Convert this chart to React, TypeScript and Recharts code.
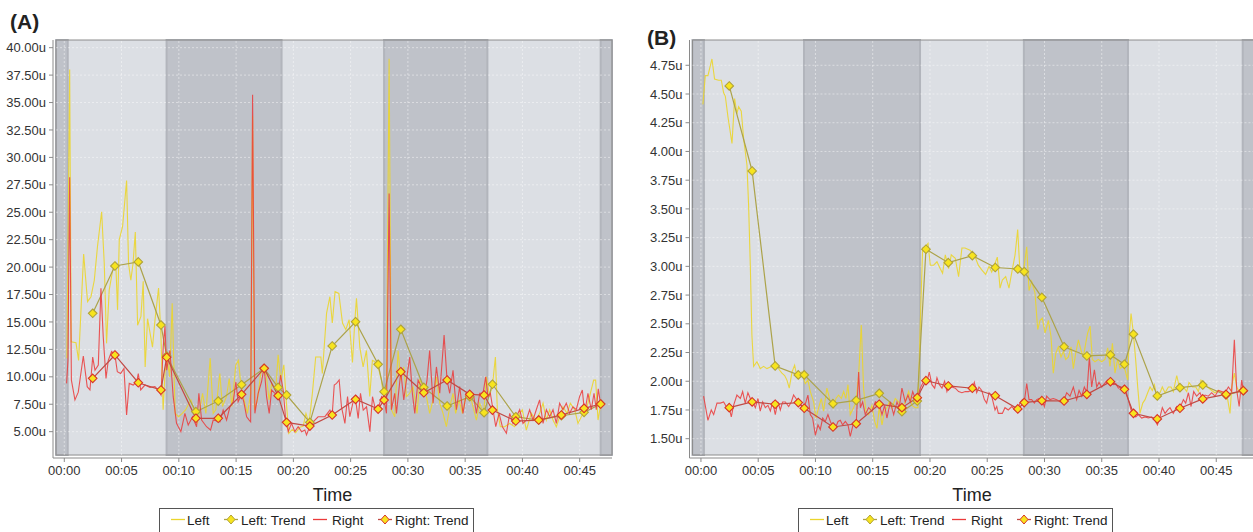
import React from 'react';
import { LineChart, Line, XAxis, YAxis, ReferenceArea, ReferenceLine } from 'recharts';

type Pt = [number, number];

// time ticks (minutes) shared by both panels
const timeTicks = [0, 5, 10, 15, 20, 25, 30, 35, 40, 45];
const yTicksA = [5, 7.5, 10, 12.5, 15, 17.5, 20, 22.5, 25, 27.5, 30, 32.5, 35, 37.5, 40];
const yTicksB = [1.5, 1.75, 2, 2.25, 2.5, 2.75, 3, 3.25, 3.5, 3.75, 4, 4.25, 4.5, 4.75];

// shaded phases (minutes): [start, end]
const darkBandsA: Pt[] = [[-0.72, 0.3], [8.93, 18.97], [27.92, 36.94], [46.83, 47.82]];
const darkBandsB: Pt[] = [[-0.74, 0.26], [9.0, 19.13], [28.2, 37.29], [47.31, 48.34]];

// ---- panel A raw series [minute, value]
const leftA: Pt[] = [
  [0.23, 11.7], [0.47, 38.0], [0.6, 13.2], [1.02, 13.1], [1.25, 11.5], [1.69, 21.2], [2.03, 16.85], [2.33, 17.3],
  [2.62, 18.8], [2.9, 21.9], [3.26, 25.05], [3.49, 20.3], [3.69, 13.05], [3.92, 17.9], [4.22, 19.7], [4.5, 20.2],
  [4.65, 16.1], [4.8, 22.5], [5.09, 23.7], [5.44, 27.9], [5.61, 20.3], [5.81, 18.8], [6.0, 20.3], [6.2, 23.2],
  [6.4, 14.7], [6.69, 15.5], [6.89, 18.7], [7.06, 10.9], [7.27, 15.3], [7.47, 14.1], [7.7, 12.7], [7.93, 15.3],
  [8.23, 18.1], [8.43, 14.0], [8.63, 7.0], [8.8, 10.5], [9.0, 11.5], [9.2, 10.0], [9.42, 16.7], [9.68, 6.67],
  [9.97, 6.37], [10.3, 6.67], [10.6, 7.0], [11.05, 7.9], [11.34, 7.0], [11.63, 5.75], [12.07, 8.5], [12.36, 6.67],
  [12.74, 11.7], [13.0, 6.67], [13.23, 7.0], [13.58, 10.3], [13.81, 7.3], [14.16, 8.2], [14.4, 9.85], [14.63, 7.3],
  [14.97, 11.07], [15.2, 11.5], [15.44, 9.1], [15.7, 7.9], [15.99, 6.67], [16.28, 8.5], [16.44, 33.8], [16.6, 7.0],
  [16.86, 7.9], [17.15, 10.3], [17.44, 10.77], [17.65, 10.0], [17.88, 7.9], [18.11, 9.4], [18.46, 8.8], [18.67, 12.0],
  [18.9, 9.7], [19.17, 11.1], [19.4, 7.5], [19.6, 4.85], [19.9, 5.2], [20.2, 4.9], [20.57, 5.4], [20.86, 5.5],
  [21.1, 6.67], [21.37, 5.75], [21.66, 8.5], [21.95, 11.8], [22.4, 11.8], [22.53, 10.3], [22.9, 15.8], [23.19, 17.3],
  [23.4, 14.9], [23.64, 17.76], [23.97, 17.6], [24.29, 14.9], [24.58, 14.3], [24.87, 15.2], [25.16, 11.3], [25.36, 15.0],
  [25.51, 17.15], [25.8, 12.7], [26.09, 10.9], [26.38, 12.4], [26.67, 8.2], [26.9, 11.5], [27.1, 11.4], [27.4, 10.9],
  [27.69, 9.7], [27.83, 8.5], [28.12, 7.9], [28.36, 39.0], [28.56, 7.0], [28.85, 6.36], [29.14, 12.4], [29.38, 9.7],
  [29.64, 10.9], [29.87, 8.2], [30.16, 8.5], [30.45, 9.1], [30.8, 6.67], [31.03, 9.7], [31.38, 9.1], [31.62, 8.2],
  [31.9, 6.67], [32.2, 7.9], [32.49, 10.0], [32.78, 7.6], [33.07, 6.67], [33.36, 5.45], [33.65, 7.27], [33.94, 8.5],
  [34.17, 6.67], [34.47, 7.9], [34.76, 6.67], [35.05, 8.2], [35.4, 8.5], [35.69, 7.27], [35.98, 6.06], [36.27, 7.6],
  [36.62, 6.67], [36.85, 10.0], [37.14, 8.2], [37.43, 9.7], [37.64, 11.8], [37.81, 7.0], [38.07, 5.45], [38.45, 5.45],
  [38.89, 5.75], [39.32, 5.45], [39.76, 6.67], [39.99, 7.0], [40.34, 5.15], [40.78, 6.67], [41.16, 6.06], [41.5, 6.67],
  [41.8, 7.6], [42.09, 6.06], [42.38, 7.0], [42.67, 6.06], [42.96, 5.45], [43.25, 6.36], [43.54, 7.27], [43.89, 6.67],
  [44.18, 7.6], [44.56, 7.0], [44.85, 5.75], [45.29, 6.67], [45.58, 7.0], [45.93, 8.5], [46.22, 9.7], [46.39, 9.7],
  [46.6, 6.06], [46.8, 7.27], [46.89, 7.7],
];

const rightA: Pt[] = [
  [0.2, 9.4], [0.32, 11.5], [0.47, 28.2], [0.62, 9.7], [0.93, 7.9], [1.22, 8.6], [1.66, 11.9], [2.0, 9.1],
  [2.24, 8.8], [2.48, 11.8], [2.68, 10.6], [2.97, 11.07], [3.2, 18.07], [3.4, 13.65], [3.64, 9.86], [3.84, 11.5],
  [4.13, 12.3], [4.42, 12.0], [4.63, 10.46], [4.92, 10.3], [5.21, 10.77], [5.44, 6.52], [5.67, 9.4], [6.02, 9.25],
  [6.32, 9.55], [6.46, 10.3], [6.67, 8.8], [7.04, 9.25], [7.48, 9.04], [7.91, 9.1], [8.2, 8.8], [8.44, 8.34],
  [8.64, 12.74], [8.79, 14.63], [8.94, 10.6], [9.22, 12.4], [9.51, 8.19], [9.8, 5.76], [10.18, 5.0], [10.53, 6.67],
  [10.82, 5.6], [11.2, 6.36], [11.55, 5.45], [11.75, 8.5], [11.99, 6.06], [12.42, 5.45], [12.77, 5.15], [13.0, 6.06],
  [13.59, 5.9], [13.87, 6.97], [14.17, 6.06], [14.46, 7.27], [14.75, 7.73], [14.98, 9.55], [15.18, 7.73], [15.48, 8.4],
  [15.68, 7.7], [15.92, 6.36], [16.14, 6.06], [16.27, 5.9], [16.44, 35.7], [16.64, 6.67], [16.93, 8.5], [17.22, 9.55],
  [17.45, 10.9], [17.66, 8.2], [17.89, 6.67], [18.1, 8.8], [18.39, 8.5], [18.67, 8.28], [18.88, 10.16], [19.11, 8.8],
  [19.32, 6.22], [19.55, 5.0], [19.84, 5.76], [20.13, 5.0], [20.42, 5.45], [20.72, 5.0], [21.0, 5.15], [21.15, 4.7],
  [21.44, 5.5], [21.73, 5.9], [22.16, 6.36], [22.75, 6.37], [23.19, 6.97], [23.39, 6.52], [23.57, 9.25], [23.77, 9.4],
  [24.0, 9.71], [24.2, 7.27], [24.5, 5.76], [24.73, 8.19], [24.93, 6.37], [25.22, 7.73], [25.43, 7.95], [25.66, 6.2],
  [25.86, 8.5], [26.1, 6.97], [26.39, 7.27], [26.68, 5.0], [26.91, 8.19], [27.11, 7.27], [27.4, 7.06], [27.7, 8.19],
  [27.93, 7.88], [28.13, 6.67], [28.36, 26.7], [28.56, 7.0], [28.85, 8.5], [29.0, 6.67], [29.38, 10.46], [29.64, 7.9],
  [29.87, 9.7], [30.16, 11.8], [30.39, 8.5], [30.6, 6.67], [30.89, 9.7], [31.18, 9.1], [31.47, 8.5], [31.67, 9.7],
  [31.9, 12.4], [32.2, 7.6], [32.49, 10.9], [32.78, 8.5], [33.16, 13.8], [33.42, 9.7], [33.65, 8.5], [33.94, 10.6],
  [34.23, 7.0], [34.52, 9.1], [34.81, 6.67], [35.1, 8.5], [35.4, 8.5], [35.75, 8.2], [35.98, 6.67], [36.27, 8.5],
  [36.56, 8.5], [36.79, 10.0], [36.99, 8.2], [37.2, 8.5], [37.43, 7.0], [37.67, 5.45], [37.96, 6.67], [38.25, 5.45],
  [38.6, 4.85], [38.89, 6.67], [39.18, 5.75], [39.47, 6.36], [39.76, 7.0], [40.05, 5.75], [40.34, 6.06], [40.63, 7.0],
  [40.92, 6.06], [41.21, 7.0], [41.5, 7.9], [41.8, 5.75], [42.09, 7.0], [42.38, 6.36], [42.67, 7.0], [42.96, 5.75],
  [43.25, 7.6], [43.54, 7.0], [43.83, 7.6], [44.12, 6.67], [44.41, 7.27], [44.7, 7.0], [44.99, 8.2], [45.23, 8.8],
  [45.43, 6.67], [45.72, 8.5], [46.01, 7.0], [46.25, 8.5], [46.45, 7.0], [46.62, 8.9], [46.8, 7.7],
];

// ---- panel A trends
const trendTimesA = [2.48, 4.42, 6.46, 8.44, 8.94, 11.49, 13.44, 15.48, 17.45, 18.67, 19.41, 21.44, 23.39, 25.43,
  27.4, 27.92, 29.38, 31.39, 33.42, 35.4, 36.65, 37.38, 39.42, 41.42, 43.4, 45.38, 46.83];
const leftTrendA = [15.79, 20.1, 20.47, 14.72, 11.9, 6.82, 7.79, 9.28, 10.77, 9.04, 8.34, 5.85, 12.81, 15.02,
  11.14, 8.64, 14.33, 9.04, 7.34, 8.19, 6.73, 9.32, 6.36, 6.06, 6.45, 6.76, 7.52];
const rightTrendA = [9.86, 11.99, 9.46, 8.8, 11.78, 6.22, 6.22, 8.4, 10.77, 8.28, 5.85, 5.51, 6.52, 7.95,
  7.06, 7.88, 10.46, 8.55, 9.71, 8.4, 8.34, 6.97, 5.97, 6.06, 6.52, 7.13, 7.52];

// ---- panel B raw series
const leftB: Pt[] = [
  [0.17, 4.41], [0.38, 4.66], [0.61, 4.66], [0.96, 4.805], [1.19, 4.63], [1.54, 4.62], [1.78, 4.62], [1.98, 4.51],
  [2.13, 4.48], [2.36, 4.3], [2.71, 4.07], [2.94, 4.46], [3.14, 4.33], [3.29, 4.39], [3.52, 4.35], [3.73, 4.11],
  [4.02, 3.88], [4.16, 3.535], [4.31, 3.01], [4.45, 2.4], [4.6, 2.13], [4.89, 2.17], [5.18, 2.11], [5.47, 2.13],
  [5.76, 2.11], [6.2, 2.13], [6.64, 2.14], [6.84, 2.1], [7.07, 2.07], [7.31, 2.05], [7.51, 2.01], [7.71, 1.94],
  [7.95, 2.08], [8.18, 2.14], [8.38, 2.04], [8.59, 2.05], [8.82, 2.08], [9.11, 1.98], [9.34, 2.01], [9.55, 1.91],
  [9.84, 1.82], [10.04, 1.68], [10.28, 1.77], [10.51, 1.85], [10.71, 1.74], [11.0, 1.94], [11.3, 1.82], [11.59, 1.77],
  [11.79, 1.85], [12.02, 1.88], [12.26, 1.85], [12.46, 1.91], [12.66, 1.85], [12.84, 1.97], [13.04, 1.71], [13.33, 1.77],
  [13.54, 1.82], [13.77, 2.05], [14.0, 2.49], [14.2, 1.94], [14.4, 1.74], [14.64, 1.71], [14.93, 1.79], [15.17, 1.65],
  [15.37, 1.59], [15.57, 1.77], [15.81, 1.62], [16.04, 1.74], [16.24, 1.77], [16.45, 1.82], [16.68, 1.77], [16.97, 1.85],
  [17.26, 1.82], [17.55, 1.77], [17.84, 1.82], [18.14, 1.91], [18.43, 1.79], [18.72, 1.77], [18.95, 1.77], [19.16, 2.52],
  [19.36, 3.16], [19.59, 3.17], [19.83, 3.2], [20.03, 3.01], [20.32, 3.01], [20.61, 3.04], [20.9, 2.98], [21.1, 2.94],
  [21.34, 3.1], [21.63, 2.98], [21.86, 3.1], [22.21, 3.07], [22.5, 2.91], [22.79, 3.16], [23.06, 3.16], [23.5, 3.14],
  [23.87, 3.1], [24.22, 3.01], [24.52, 2.97], [24.86, 2.93], [25.16, 3.0], [25.39, 2.95], [25.62, 3.01], [25.88, 3.08],
  [26.12, 2.81], [26.32, 2.88], [26.61, 2.91], [26.9, 2.81], [27.13, 2.94], [27.43, 3.1], [27.66, 3.32], [27.86, 2.95],
  [28.15, 2.95], [28.45, 3.17], [28.65, 2.79], [28.88, 2.87], [29.17, 2.77], [29.41, 2.45], [29.61, 2.53], [29.81, 2.55],
  [30.05, 2.42], [30.34, 2.53], [30.57, 2.39], [30.77, 2.07], [30.98, 2.24], [31.21, 2.3], [31.44, 2.21], [31.65, 2.26],
  [31.85, 2.19], [32.08, 2.21], [32.32, 2.3], [32.52, 2.11], [32.72, 2.24], [32.96, 2.36], [33.19, 2.27], [33.39, 2.21],
  [33.6, 2.33], [33.77, 2.42], [33.98, 2.48], [34.18, 2.19], [34.41, 2.17], [34.7, 2.19], [34.99, 2.17], [35.28, 2.19],
  [35.52, 2.29], [35.72, 2.13], [35.93, 2.33], [36.16, 2.07], [36.39, 2.19], [36.6, 2.11], [36.8, 2.13], [37.03, 2.1],
  [37.27, 2.01], [37.41, 2.42], [37.56, 2.59], [37.76, 2.42], [37.96, 2.19], [38.14, 1.95], [38.34, 1.72], [38.58, 1.81],
  [38.78, 1.84], [39.01, 1.9], [39.22, 1.95], [39.42, 1.92], [39.6, 1.97], [39.8, 1.87], [40.09, 1.9], [40.29, 1.95],
  [40.53, 1.9], [40.82, 1.95], [41.05, 1.95], [41.25, 1.91], [41.55, 2.05], [41.84, 1.92], [42.13, 1.95], [42.42, 1.91],
  [42.62, 1.99], [42.92, 1.95], [43.21, 1.95], [43.44, 1.91], [43.67, 2.01], [43.96, 1.98], [44.25, 1.95], [44.6, 1.92],
  [44.89, 1.9], [45.18, 1.92], [45.48, 1.9], [45.77, 1.91], [46.0, 1.84], [46.2, 1.72], [46.35, 1.95], [46.58, 2.07],
  [46.79, 1.95], [47.0, 1.91], [47.22, 1.94], [47.46, 1.92],
];

const rightB: Pt[] = [
  [0.23, 1.87], [0.61, 1.66], [0.9, 1.75], [1.11, 1.71], [1.4, 1.81], [1.69, 1.81], [1.98, 1.82], [2.27, 1.77],
  [2.47, 1.77], [2.65, 1.69], [2.85, 1.79], [3.14, 1.88], [3.44, 1.85], [3.64, 1.91], [3.87, 1.81], [4.1, 1.9],
  [4.31, 1.85], [4.51, 1.82], [4.75, 1.77], [4.98, 1.85], [5.18, 1.74], [5.39, 1.82], [5.62, 1.77], [5.85, 1.79],
  [6.06, 1.74], [6.26, 1.82], [6.49, 1.71], [6.72, 1.82], [6.93, 1.75], [7.13, 1.82], [7.37, 1.82], [7.66, 1.78],
  [7.89, 1.82], [8.09, 1.88], [8.3, 1.85], [8.53, 1.81], [8.76, 1.79], [8.97, 1.76], [9.17, 1.82], [9.34, 1.88],
  [9.55, 1.71], [9.75, 1.68], [9.99, 1.53], [10.22, 1.62], [10.42, 1.58], [10.63, 1.68], [10.86, 1.65], [11.09, 1.71],
  [11.3, 1.65], [11.53, 1.6], [11.73, 1.59], [11.97, 1.65], [12.17, 1.66], [12.37, 1.62], [12.61, 1.65], [12.84, 1.62],
  [13.04, 1.52], [13.28, 1.62], [13.56, 1.63], [13.77, 2.08], [13.92, 1.77], [14.12, 1.82], [14.35, 1.71], [14.64, 1.77],
  [14.93, 1.74], [15.23, 1.82], [15.57, 1.8], [15.81, 1.71], [16.04, 1.79], [16.24, 1.68], [16.54, 1.82], [16.83, 1.71],
  [17.12, 1.82], [17.32, 1.77], [17.55, 1.94], [17.84, 1.82], [18.08, 1.88], [18.28, 1.82], [18.49, 1.91], [18.72, 1.85],
  [18.95, 1.87], [19.16, 1.94], [19.3, 1.97], [19.53, 2.01], [19.74, 2.0], [19.94, 2.08], [20.17, 1.97], [20.41, 1.94],
  [20.61, 2.03], [20.82, 1.97], [21.05, 1.94], [21.28, 2.0], [21.48, 1.91], [21.69, 1.97], [21.92, 1.95], [22.21, 1.94],
  [22.5, 1.91], [22.79, 1.9], [23.09, 1.91], [23.35, 1.91], [23.64, 1.92], [23.87, 1.99], [24.08, 1.9], [24.28, 1.95],
  [24.52, 1.92], [24.75, 1.84], [24.95, 1.81], [25.16, 1.9], [25.39, 1.87], [25.68, 1.75], [25.83, 1.78], [25.97, 1.72],
  [26.32, 1.72], [26.55, 1.77], [26.84, 1.75], [27.14, 1.78], [27.43, 1.75], [27.66, 1.76], [27.86, 1.81], [28.07, 1.84],
  [28.24, 1.82], [28.45, 1.98], [28.65, 1.84], [28.88, 1.84], [29.12, 1.81], [29.32, 1.84], [29.52, 1.85], [29.76, 1.84],
  [29.99, 1.78], [30.19, 1.87], [30.48, 1.84], [30.77, 1.85], [31.07, 1.84], [31.36, 1.82], [31.71, 1.84], [31.94, 1.9],
  [32.23, 1.87], [32.52, 1.95], [32.81, 1.84], [33.02, 1.92], [33.25, 1.87], [33.48, 1.95], [33.71, 1.9], [33.92, 2.21],
  [34.12, 1.95], [34.36, 2.1], [34.56, 1.95], [34.76, 1.99], [35.0, 1.95], [35.23, 1.98], [35.52, 2.01], [35.75, 1.99],
  [36.01, 1.97], [36.22, 1.98], [36.45, 1.94], [36.68, 1.95], [36.89, 1.91], [37.09, 1.92], [37.32, 1.84], [37.56, 1.75],
  [37.76, 1.72], [37.97, 1.69], [38.2, 1.71], [38.49, 1.68], [38.78, 1.69], [39.07, 1.68], [39.36, 1.69], [39.65, 1.66],
  [39.86, 1.62], [40.09, 1.69], [40.29, 1.77], [40.53, 1.72], [40.76, 1.75], [40.96, 1.77], [41.25, 1.72], [41.55, 1.78],
  [41.84, 1.77], [42.13, 1.84], [42.33, 1.81], [42.57, 1.9], [42.8, 1.78], [43.03, 1.91], [43.29, 1.87], [43.58, 1.9],
  [43.79, 1.85], [44.02, 1.88], [44.31, 1.87], [44.6, 1.9], [44.89, 1.87], [45.18, 1.92], [45.48, 1.91], [45.77, 1.9],
  [46.06, 1.95], [46.35, 1.91], [46.58, 2.36], [46.79, 1.92], [47.0, 1.78], [47.22, 2.01], [47.37, 1.91],
];

// ---- panel B trends
const trendTimesB = [2.47, 4.47, 6.48, 8.5, 9.02, 11.53, 13.56, 15.57, 17.55, 18.89, 19.65, 21.6, 23.7, 25.7,
  27.67, 28.23, 29.77, 31.71, 33.7, 35.76, 36.98, 37.77, 39.85, 41.83, 43.82, 45.85, 47.36];
const leftTrendB = [4.57, 3.83, 2.133, 2.055, 2.055, 1.805, 1.834, 1.895, 1.735, 1.828, 3.149, 3.032, 3.093, 2.99,
  2.977, 2.954, 2.73, 2.3, 2.22, 2.229, 2.148, 2.41, 1.872, 1.944, 1.967, 1.88, 1.918];
const rightTrendB = [1.77, 1.82, 1.8, 1.814, 1.765, 1.602, 1.63, 1.8, 1.77, 1.857, 2.005, 1.959, 1.939, 1.874,
  1.759, 1.814, 1.831, 1.828, 1.886, 1.996, 1.93, 1.721, 1.672, 1.765, 1.846, 1.886, 1.918];

const FONT = '"Liberation Sans", Arial, sans-serif';
const LEFT_COLOR = '#ebd52c';
const LEFT_TREND = '#aca34a';
const RIGHT_COLOR = '#eb3a3a';
const RIGHT_TREND = '#c24a45';
const MARK_FILL = '#f7e41e';
const MARK_LEFT = '#b0a237';
const MARK_RIGHT = '#d83329';
const LIGHT_BG = '#dcdfe4';
const DARK_BG = '#bfc2c9';

const rows = (pts: Pt[]) => pts.map(([t, v]) => ({ t, v }));
const trendRows = (times: number[], vals: number[]) => times.map((t, i) => ({ t, v: vals[i] }));
const fmtTime = (m: number) => `00:${String(m).padStart(2, '0')}`;

const diamond = (stroke: string) => (props: any) => {
  const { cx, cy, index } = props;
  if (cx == null || cy == null) return <g key={`d-${index}`} />;
  const r = 4.3;
  return (
    <polygon
      key={`d-${index}`}
      points={`${cx},${cy - r} ${cx + r},${cy} ${cx},${cy + r} ${cx - r},${cy}`}
      fill={MARK_FILL}
      stroke={stroke}
      strokeWidth={1.1}
    />
  );
};

interface PanelProps {
  left: number;
  width: number;
  yAxisWidth: number;
  marginRight: number;
  xDomain: [number, number];
  yDomain: [number, number];
  box: { x1: number; x2: number; y1: number; y2: number };
  bands: Pt[];
  yTicks: number[];
  yDigits: number;
  leftRaw: Pt[];
  rightRaw: Pt[];
  trendTimes: number[];
  leftTrend: number[];
  rightTrend: number[];
}

function Panel(p: PanelProps) {
  const tickStyle = { fill: '#333', fontSize: 13, fontFamily: FONT };
  return (
    <div style={{ position: 'absolute', left: p.left, top: 0 }}>
      <LineChart width={p.width} height={532} margin={{ top: 40, right: p.marginRight, bottom: 24, left: 0 }}>
        <XAxis
          dataKey="t"
          type="number"
          domain={p.xDomain}
          allowDataOverflow
          ticks={timeTicks}
          interval={0}
          tickFormatter={fmtTime}
          tick={tickStyle}
          tickSize={4}
          tickMargin={4}
          axisLine={{ stroke: '#8a8a8a' }}
          tickLine={{ stroke: '#8a8a8a' }}
          height={50}
          label={{ value: 'Time', position: 'insideBottom', offset: 7, fill: '#222', fontSize: 18, fontFamily: FONT }}
        />
        <YAxis
          type="number"
          domain={p.yDomain}
          allowDataOverflow
          ticks={p.yTicks}
          interval={0}
          tickFormatter={(v: number) => `${v.toFixed(p.yDigits)}u`}
          tick={tickStyle}
          tickSize={4}
          tickMargin={3}
          axisLine={{ stroke: '#8a8a8a' }}
          tickLine={{ stroke: '#8a8a8a' }}
          width={p.yAxisWidth}
        />
        <ReferenceArea x1={p.box.x1} x2={p.box.x2} y1={p.box.y1} y2={p.box.y2} fill={LIGHT_BG} fillOpacity={1} stroke="none" />
        {p.bands.map(([a, b], i) => (
          <ReferenceArea key={`band-${i}`} x1={a} x2={b} y1={p.box.y1} y2={p.box.y2} fill={DARK_BG} fillOpacity={1}
            stroke="#b2b5bc" strokeWidth={2} />
        ))}
        {p.yTicks.map((v) => (
          <ReferenceLine key={`gy-${v}`} segment={[{ x: p.box.x1, y: v }, { x: p.box.x2, y: v }]}
            stroke="#ffffff" strokeOpacity={0.45} strokeDasharray="2 2" />
        ))}
        {timeTicks.map((t) => (
          <ReferenceLine key={`gx-${t}`} segment={[{ x: t, y: p.box.y1 }, { x: t, y: p.box.y2 }]}
            stroke="#ffffff" strokeOpacity={0.45} strokeDasharray="2 2" />
        ))}
        <ReferenceArea x1={p.box.x1} x2={p.box.x2} y1={p.box.y1} y2={p.box.y2} fill="none" stroke="#8c8c8c" strokeWidth={1} />
        <Line data={rows(p.leftRaw)} dataKey="v" name="Left" type="linear" stroke={LEFT_COLOR} strokeWidth={1.1}
          strokeOpacity={0.9} dot={false} activeDot={false} isAnimationActive={false} />
        <Line data={trendRows(p.trendTimes, p.leftTrend)} dataKey="v" name="Left: Trend" type="linear" stroke={LEFT_TREND}
          strokeWidth={1.2} dot={diamond(MARK_LEFT)} activeDot={false} isAnimationActive={false} />
        <Line data={rows(p.rightRaw)} dataKey="v" name="Right" type="linear" stroke={RIGHT_COLOR} strokeWidth={1.1}
          strokeOpacity={0.85} dot={false} activeDot={false} isAnimationActive={false} />
        <Line data={trendRows(p.trendTimes, p.rightTrend)} dataKey="v" name="Right: Trend" type="linear" stroke={RIGHT_TREND}
          strokeWidth={1.2} dot={diamond(MARK_RIGHT)} activeDot={false} isAnimationActive={false} />
      </LineChart>
    </div>
  );
}

function LegendBox({ left }: { left: number }) {
  const txt: React.CSSProperties = { fontFamily: FONT, fontSize: 13.5, color: '#222', position: 'absolute', top: 4 };
  const dia = (stroke: string) => <polygon points="7,2 11,6.5 7,11 3,6.5" fill={MARK_FILL} stroke={stroke} strokeWidth={1} />;
  return (
    <div style={{ position: 'absolute', left, top: 508, width: 313, height: 24, border: '1px solid #555', background: '#fff' }}>
      <svg style={{ position: 'absolute', left: 11, top: 4 }} width={14} height={13}>
        <line x1={0} y1={6.5} x2={14} y2={6.5} stroke={LEFT_COLOR} strokeWidth={1.3} />
      </svg>
      <span style={{ ...txt, left: 27 }}>Left</span>
      <svg style={{ position: 'absolute', left: 64, top: 4 }} width={14} height={13}>
        <line x1={0} y1={6.5} x2={14} y2={6.5} stroke={LEFT_TREND} strokeWidth={1.3} />
        {dia(MARK_LEFT)}
      </svg>
      <span style={{ ...txt, left: 81 }}>Left: Trend</span>
      <svg style={{ position: 'absolute', left: 153, top: 4 }} width={14} height={13}>
        <line x1={0} y1={6.5} x2={14} y2={6.5} stroke={RIGHT_COLOR} strokeWidth={1.3} />
      </svg>
      <span style={{ ...txt, left: 172 }}>Right</span>
      <svg style={{ position: 'absolute', left: 218, top: 4 }} width={14} height={13}>
        <line x1={0} y1={6.5} x2={14} y2={6.5} stroke={RIGHT_TREND} strokeWidth={1.3} />
        {dia(MARK_RIGHT)}
      </svg>
      <span style={{ ...txt, left: 235 }}>Right: Trend</span>
    </div>
  );
}

export default function App() {
  const title: React.CSSProperties = { position: 'absolute', fontFamily: FONT, fontWeight: 700, fontSize: 21, color: '#222' };
  return (
    <div style={{ position: 'absolute', left: 0, top: 0, width: 1253, height: 532, overflow: 'hidden', background: '#fff' }}>
      <Panel
        left={0}
        width={633}
        yAxisWidth={53}
        marginRight={21}
        xDomain={[-0.986, 47.82]}
        yDomain={[2.6, 40.7]}
        box={{ x1: -0.72, x2: 47.82, y1: 2.87, y2: 40.7 }}
        bands={darkBandsA}
        yTicks={yTicksA}
        yDigits={2}
        leftRaw={leftA}
        rightRaw={rightA}
        trendTimes={trendTimesA}
        leftTrend={leftTrendA}
        rightTrend={rightTrendA}
      />
      <Panel
        left={637}
        width={633}
        yAxisWidth={52.5}
        marginRight={15.5}
        xDomain={[-1.0, 48.34]}
        yDomain={[1.332, 4.97]}
        box={{ x1: -0.74, x2: 48.34, y1: 1.358, y2: 4.97 }}
        bands={darkBandsB}
        yTicks={yTicksB}
        yDigits={2}
        leftRaw={leftB}
        rightRaw={rightB}
        trendTimes={trendTimesB}
        leftTrend={leftTrendB}
        rightTrend={rightTrendB}
      />
      <div style={{ ...title, left: 10, top: 10 }}>(A)</div>
      <div style={{ ...title, left: 647, top: 26 }}>(B)</div>
      <LegendBox left={159} />
      <LegendBox left={798} />
    </div>
  );
}
